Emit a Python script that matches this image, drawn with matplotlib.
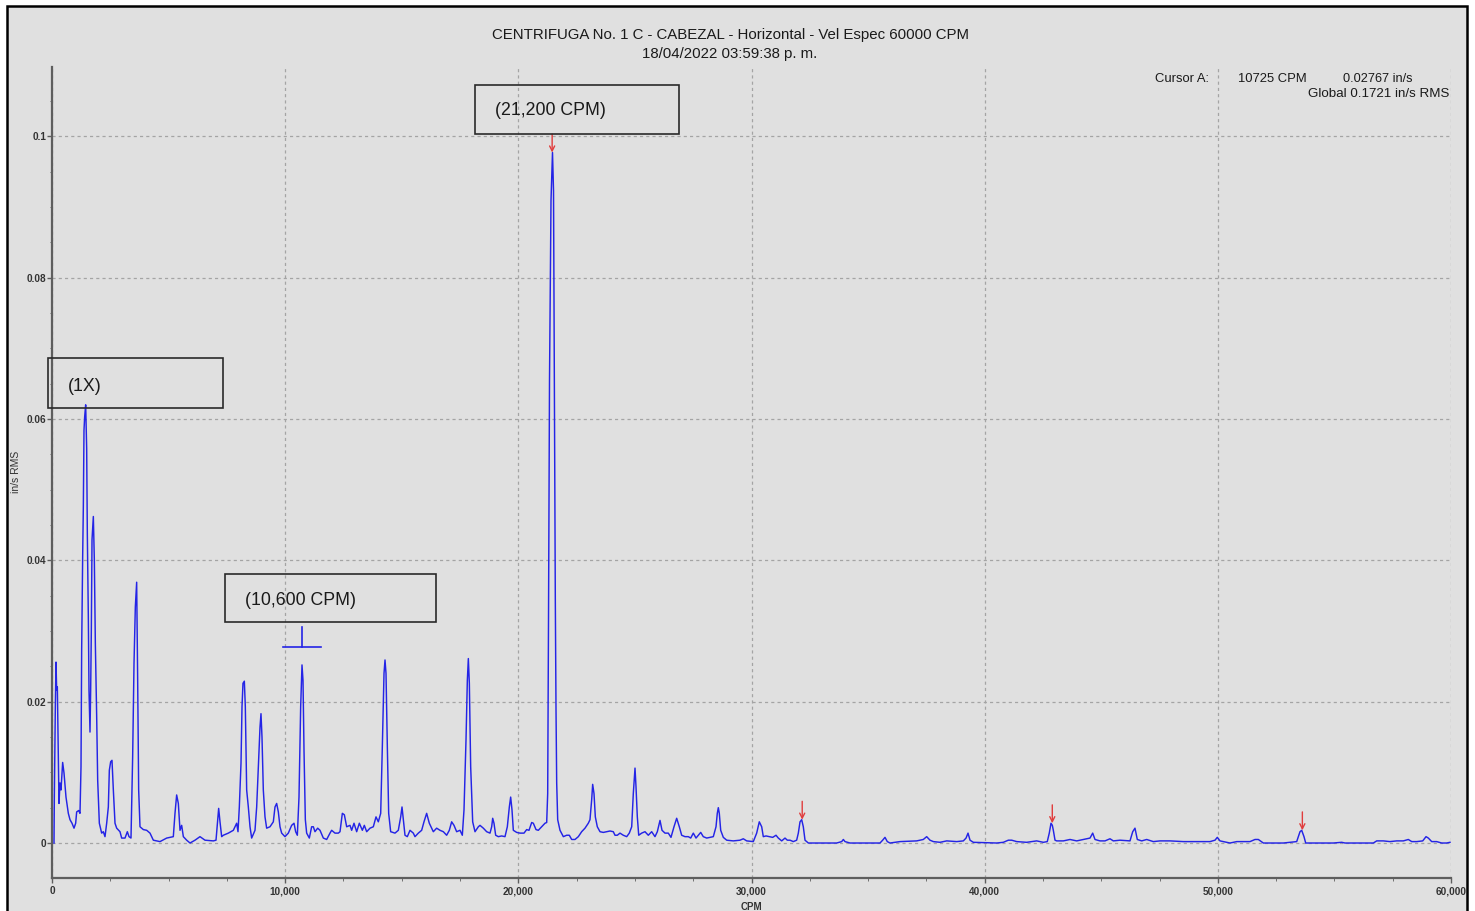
import matplotlib
matplotlib.use("Agg")
import matplotlib.pyplot as plt
import numpy as np
from matplotlib.patches import Rectangle
from matplotlib.ticker import MultipleLocator, FuncFormatter

# ---------------- data ----------------
cpm_1 = [86, 100, 143, 172, 200, 229, 257, 300, 343, 386,
         457, 515, 600, 700, 772, 858, 944, 1015, 1058, 1144,
         1201, 1244, 1272, 1315, 1344, 1372, 1401, 1444, 1487, 1515,
         1558, 1587, 1630, 1658, 1687, 1716, 1773, 1816, 1859, 1916,
         1959, 2030, 2130, 2201, 2273, 2345, 2416, 2459, 2516, 2573,
         2631, 2702, 2774, 2916, 2988, 3131, 3231, 3302, 3388, 3459,
         3517, 3574, 3631, 3674, 3717, 3774, 3917, 4060, 4203, 4346,
         4632, 4918, 5203]
amp_1 = [0.0000, 0.0064, 0.0193, 0.0256, 0.0216, 0.0221, 0.0160, 0.0056, 0.0085, 0.0075,
         0.0114, 0.0099, 0.0065, 0.0042, 0.0033, 0.0028, 0.0021, 0.0028, 0.0044, 0.0046,
         0.0042, 0.0108, 0.0273, 0.0405, 0.0476, 0.0584, 0.0603, 0.0620, 0.0558, 0.0438,
         0.0320, 0.0216, 0.0157, 0.0216, 0.0301, 0.0429, 0.0462, 0.0400, 0.0282, 0.0179,
         0.0089, 0.0028, 0.0014, 0.0016, 0.0009, 0.0028, 0.0051, 0.0103, 0.0115, 0.0117,
         0.0075, 0.0028, 0.0021, 0.0016, 0.0007, 0.0007, 0.0016, 0.0009, 0.0007, 0.0122,
         0.0254, 0.0334, 0.0369, 0.0230, 0.0075, 0.0023, 0.0019, 0.0018, 0.0014, 0.0004,
         0.0002, 0.0007, 0.0009]

cpm_2 = [5275, 5346, 5418, 5490, 5561, 5633, 5776, 5919, 6133, 6347,
         6562, 6919, 7034, 7105, 7148, 7205, 7277, 7348, 7563, 7777,
         7848, 7920, 7977, 8034, 8106, 8149, 8191, 8249, 8291, 8349,
         8420, 8492, 8563, 8706, 8778, 8849, 8921, 8963, 9006, 9063,
         9135, 9206, 9349, 9492, 9564, 9635, 9707, 9778, 9850, 9993,
         10135, 10278, 10379, 10450, 10522, 10593, 10665, 10722, 10765, 10808,
         10865, 10922]
amp_2 = [0.0042, 0.0068, 0.0056, 0.0018, 0.0025, 0.0009, 0.0004, 0.0000, 0.0004, 0.0009,
         0.0004, 0.0003, 0.0004, 0.0033, 0.0049, 0.0030, 0.0009, 0.0011, 0.0014, 0.0018,
         0.0023, 0.0028, 0.0016, 0.0051, 0.0113, 0.0193, 0.0226, 0.0229, 0.0193, 0.0075,
         0.0051, 0.0023, 0.0007, 0.0018, 0.0051, 0.0108, 0.0164, 0.0183, 0.0150, 0.0075,
         0.0037, 0.0021, 0.0023, 0.0030, 0.0051, 0.0056, 0.0044, 0.0023, 0.0014, 0.0009,
         0.0014, 0.0025, 0.0028, 0.0016, 0.0011, 0.0065, 0.0193, 0.0252, 0.0230, 0.0131,
         0.0033, 0.0014]

cpm_3 = [11036, 11136, 11208, 11279, 11394, 11494, 11637, 11780, 11923, 11994,
         12137, 12280, 12352, 12452, 12538, 12638, 12781, 12852, 12952, 13067,
         13181, 13310, 13395, 13496, 13638, 13781, 13896, 13995, 14097, 14167,
         14239, 14282, 14325, 14382, 14439, 14525, 14710, 14853, 14955, 15011,
         15068, 15139, 15239, 15354, 15496, 15568, 15711, 15854, 15954, 16068,
         16182, 16283, 16354, 16497, 16640, 16783, 16926, 17040, 17140, 17241,
         17355, 17498, 17598, 17670, 17756, 17813, 17856, 17899, 17956, 18042,
         18142, 18285, 18356]
amp_3 = [0.0007, 0.0023, 0.0023, 0.0016, 0.0021, 0.0018, 0.0007, 0.0005, 0.0014, 0.0018,
         0.0014, 0.0014, 0.0016, 0.0042, 0.0040, 0.0023, 0.0025, 0.0018, 0.0028, 0.0016,
         0.0028, 0.0018, 0.0025, 0.0016, 0.0021, 0.0023, 0.0037, 0.0030, 0.0042, 0.0136,
         0.0240, 0.0259, 0.0240, 0.0136, 0.0042, 0.0016, 0.0014, 0.0018, 0.0037, 0.0051,
         0.0033, 0.0011, 0.0009, 0.0018, 0.0014, 0.0009, 0.0014, 0.0018, 0.0030, 0.0042,
         0.0028, 0.0021, 0.0016, 0.0021, 0.0018, 0.0016, 0.0011, 0.0018, 0.0030, 0.0025,
         0.0016, 0.0018, 0.0011, 0.0047, 0.0146, 0.0230, 0.0261, 0.0226, 0.0108, 0.0030,
         0.0016, 0.0023, 0.0025]

cpm_4 = [18499, 18642, 18785, 18857, 18900, 18956, 19028, 19142, 19285, 19428,
         19528, 19614, 19671, 19728, 19785, 19929, 20071, 20243, 20357, 20458,
         20573, 20643, 20758, 20857, 21001, 21144, 21216, 21259, 21294, 21337,
         21401, 21465, 21509, 21551, 21586, 21616, 21645, 21688, 21787, 21930,
         22073, 22186, 22288, 22430, 22573, 22716, 22859, 23001, 23073, 23145,
         23188, 23245, 23302, 23387, 23503, 23645, 23789, 23932, 24073, 24146,
         24245, 24360, 24502, 24648, 24759, 24862, 24931, 25004, 25046, 25103,
         25163, 25290, 25432, 25574, 25719, 25861, 25961, 26076, 26162, 26290,
         26432, 26547, 26676, 26791, 26904, 27005, 27148, 27290, 27393, 27504,
         27620, 27718, 27822, 27932, 28079, 28220, 28362, 28478, 28533, 28577,
         28619, 28679, 28791, 28937, 29219, 29507, 29648, 29794]
amp_4 = [0.0021, 0.0016, 0.0014, 0.0023, 0.0035, 0.0028, 0.0011, 0.0009, 0.0010, 0.0009,
         0.0023, 0.0051, 0.0065, 0.0047, 0.0018, 0.0015, 0.0014, 0.0014, 0.0019, 0.0018,
         0.0029, 0.0028, 0.0019, 0.0018, 0.0023, 0.0028, 0.0029, 0.0070, 0.0315, 0.0655,
         0.0909, 0.0977, 0.0923, 0.0598, 0.0344, 0.0188, 0.0085, 0.0033, 0.0018, 0.0009,
         0.0011, 0.0011, 0.0005, 0.0005, 0.0009, 0.0016, 0.0021, 0.0028, 0.0033, 0.0061,
         0.0083, 0.0070, 0.0037, 0.0023, 0.0016, 0.0015, 0.0016, 0.0017, 0.0016, 0.0011,
         0.0011, 0.0014, 0.0011, 0.0009, 0.0014, 0.0023, 0.0070, 0.0106, 0.0080, 0.0037,
         0.0011, 0.0014, 0.0016, 0.0011, 0.0016, 0.0009, 0.0016, 0.0032, 0.0018, 0.0014,
         0.0014, 0.0008, 0.0023, 0.0035, 0.0023, 0.0011, 0.0009, 0.0009, 0.0007, 0.0014,
         0.0007, 0.0011, 0.0015, 0.0009, 0.0007, 0.0008, 0.0009, 0.0023, 0.0042, 0.0050,
         0.0042, 0.0018, 0.0008, 0.0004, 0.0003, 0.0004, 0.0006, 0.0003]

cpm_5 = [30077, 30222, 30334, 30437, 30506, 30622, 30764, 30910, 31051, 31150,
         31295, 31437, 31536, 31651, 31794, 31937, 32008, 32081, 32153, 32222,
         32295, 32437, 32796, 33225, 33654, 33868, 33939, 34010, 34225, 34940,
         35511, 35625, 35725, 35824, 35939, 36369, 37084, 37368, 37513, 37655,
         37799, 38085, 38372, 38800, 39085, 39201, 39286, 39372, 39514, 40515,
         40800, 41015, 41159, 41374, 41803, 42231, 42517, 42685, 42771, 42845,
         42902, 42945, 43017, 43089, 43374, 43660, 43947, 44231, 44518, 44633,
         44732, 44946, 45161, 45375, 45518, 45804, 46233, 46349, 46447, 46546,
         46735, 46950, 47233, 47520, 47949, 48520, 49094, 49664, 49879, 49977,
         50093, 50522, 50810, 51380, 51594, 51737, 51951, 52809, 53382, 53524,
         53596, 53695, 53768, 54240, 54952, 55312, 55455, 56670, 56813, 57098,
         57384, 57672, 57956, 58170, 58315, 58529, 58787, 58929, 59028, 59172,
         59386, 59601, 59815, 59957]
amp_5 = [0.0002, 0.0014, 0.0030, 0.0023, 0.0009, 0.0010, 0.0009, 0.0008, 0.0011, 0.0007,
         0.0003, 0.0007, 0.0004, 0.0004, 0.0002, 0.0004, 0.0014, 0.0030, 0.0033, 0.0023,
         0.0004, 0.0000, 0.0000, 0.0000, 0.0000, 0.0002, 0.0005, 0.0002, 0.0000, 0.0000,
         0.0000, 0.0004, 0.0008, 0.0002, 0.0000, 0.0002, 0.0003, 0.0005, 0.0009, 0.0004,
         0.0002, 0.0001, 0.0003, 0.0002, 0.0003, 0.0007, 0.0014, 0.0004, 0.0001, 0.0000,
         0.0001, 0.0004, 0.0004, 0.0002, 0.0001, 0.0003, 0.0001, 0.0002, 0.0014, 0.0028,
         0.0025, 0.0018, 0.0004, 0.0003, 0.0003, 0.0005, 0.0003, 0.0005, 0.0007, 0.0014,
         0.0005, 0.0003, 0.0003, 0.0006, 0.0003, 0.0004, 0.0003, 0.0016, 0.0021, 0.0005,
         0.0003, 0.0005, 0.0002, 0.0003, 0.0003, 0.0002, 0.0002, 0.0002, 0.0004, 0.0008,
         0.0003, 0.0000, 0.0002, 0.0002, 0.0005, 0.0005, 0.0000, 0.0000, 0.0002, 0.0016,
         0.0018, 0.0009, 0.0000, 0.0000, 0.0000, 0.0001, 0.0000, 0.0000, 0.0003, 0.0003,
         0.0002, 0.0003, 0.0003, 0.0005, 0.0002, 0.0002, 0.0003, 0.0009, 0.0007, 0.0002,
         0.0002, 0.0000, 0.0000, 0.0001]

# harmonic markers (red arrows) and cursor A
harmonic_cpm = [21450, 32175, 42900, 53625]
harmonic_amp = [0.0977, 0.0033, 0.0028, 0.0018]
cursor_cpm = 10725
cursor_amp = 0.02767

x_ticks = [0, 10000, 20000, 30000, 40000, 50000, 60000]
y_ticks = [0, 0.02, 0.04, 0.06, 0.08, 0.1]
y_tick_labels = ["0", "0.02", "0.04", "0.06", "0.08", "0.1"]

title_line1 = "CENTRIFUGA No. 1 C - CABEZAL - Horizontal - Vel Espec 60000 CPM"
title_line2 = "18/04/2022 03:59:38 p. m."
box_labels = ["(1X)", "(10,600 CPM)", "(21,200 CPM)"]

# ---------------- assemble spectrum ----------------
segments = [(cpm_1, amp_1), (cpm_2, amp_2), (cpm_3, amp_3), (cpm_4, amp_4), (cpm_5, amp_5)]
for c, a in segments:
    assert len(c) == len(a)
cpm = np.concatenate([c for c, _ in segments])
amp = np.concatenate([a for _, a in segments])

# ---------------- figure ----------------
W, H = 1475, 911
plt.rcParams['font.family'] = ['Liberation Sans', 'DejaVu Sans']
fig = plt.figure(figsize=(W / 100, H / 100), dpi=100)
fig.patch.set_facecolor('white')

BG = '#e0e0e0'
frame = Rectangle((7 / W, -0.05), (1467 - 7) / W, 1.05 - 6 / H, transform=fig.transFigure,
                  facecolor=BG, edgecolor='black', lw=1.8, zorder=0)
fig.add_artist(frame)

def fx(px):
    return px / W

def fy(py):
    return 1 - py / H

ax = fig.add_axes([fx(52), fy(878), (1451 - 52) / W, (878 - 67) / H])
ax.patch.set_visible(False)

BLUE = '#2424e6'
RED = '#e03c3c'
ax.plot(cpm, amp, color=BLUE, lw=1.05, zorder=3)

ax.set_xlim(0, 60000)
ax.set_ylim(-0.00495, 0.1098)

ax.set_xticks(x_ticks)
ax.xaxis.set_major_formatter(FuncFormatter(lambda v, p: f"{int(v):,}"))
ax.xaxis.set_minor_locator(MultipleLocator(2500))
ax.set_yticks(y_ticks)
ax.set_yticklabels(y_tick_labels)
ax.yaxis.set_minor_locator(MultipleLocator(0.005))

for s in ['top', 'right']:
    ax.spines[s].set_visible(False)
for s in ['left', 'bottom']:
    ax.spines[s].set_color('#5e5e5e')
    ax.spines[s].set_linewidth(1.6)

ax.tick_params(axis='both', which='major', color='#5e5e5e', labelcolor='#333333',
               labelsize=7.2, width=1.0)
ax.tick_params(axis='x', which='major', length=3.5, pad=2.5)
ax.tick_params(axis='x', which='minor', length=2.4, color='#5e5e5e')
ax.tick_params(axis='y', which='major', length=3.6, pad=0.4)
ax.tick_params(axis='y', which='minor', length=1.6, color='#5e5e5e')
for lab in ax.get_xticklabels() + ax.get_yticklabels():
    lab.set_fontweight('bold')

ax.grid(which='major', color='#a4a4a4', linestyle=(0, (2.5, 2.5)), lw=0.9)
ax.set_axisbelow(True)

# red harmonic arrows
for h, a in zip(harmonic_cpm, harmonic_amp):
    ax.annotate('', xy=(h, a), xytext=(h, a + 0.0026),
                arrowprops=dict(arrowstyle='->', color=RED, lw=1.0,
                                shrinkA=0, shrinkB=0, mutation_scale=9),
                zorder=5)

# cursor A marker (inverted T)
ax.plot([cursor_cpm - 815, cursor_cpm + 815], [cursor_amp, cursor_amp], color=BLUE, lw=1.2, zorder=4)
ax.plot([cursor_cpm, cursor_cpm], [cursor_amp, cursor_amp + 0.0029], color=BLUE, lw=1.2, zorder=4)

# annotation boxes (layout in data coords)
box_specs = [
    # (x0, x1, y0, y1, text_x, text_y_baseline)
    (-172, 7321, 0.06157, 0.0686, 686, 0.06393),
    (7420, 16456, 0.03126, 0.03805, 8277, 0.03371),
    (18142, 26904, 0.1003, 0.1072, 19000, 0.1030),
]
for (x0, x1, y0, y1, tx, ty), lab in zip(box_specs, box_labels):
    ax.add_patch(Rectangle((x0, y0), x1 - x0, y1 - y0, facecolor='none',
                           edgecolor='#2a2a2a', lw=1.2, clip_on=False, zorder=6))
    ax.text(tx, ty, lab, ha='left', va='baseline', fontsize=12.8, color='#1a1a1a',
            zorder=7, clip_on=False)

# title
fig.text(fx(730), fy(39.3), title_line1, ha='center', va='baseline', fontsize=10.8, color='#1a1a1a')
fig.text(fx(730), fy(57.7), title_line2, ha='center', va='baseline', fontsize=10.8, color='#1a1a1a')

# cursor read-out
fig.text(fx(1209), fy(81.5), "Cursor A:", ha='right', va='baseline', fontsize=9.4, color='#1a1a1a')
fig.text(fx(1238), fy(81.5), f"{cursor_cpm} CPM", ha='left', va='baseline', fontsize=9.4, color='#1a1a1a')
fig.text(fx(1343), fy(81.5), f"{cursor_amp:.5f} in/s", ha='left', va='baseline', fontsize=9.2, color='#1a1a1a')
fig.text(fx(1449), fy(97.3), "Global 0.1721 in/s RMS", ha='right', va='baseline', fontsize=9.6, color='#1a1a1a')

# axis labels
fig.text(fx(751), fy(909.5), "CPM", ha='center', va='baseline', fontsize=7, fontweight='bold', color='#333333')
fig.text(fx(16), fy(471.7), "in/s RMS", ha='center', va='center', rotation=90, fontsize=7.5, color='#333333')

fig.savefig('out.png', dpi=100, facecolor=fig.get_facecolor())
